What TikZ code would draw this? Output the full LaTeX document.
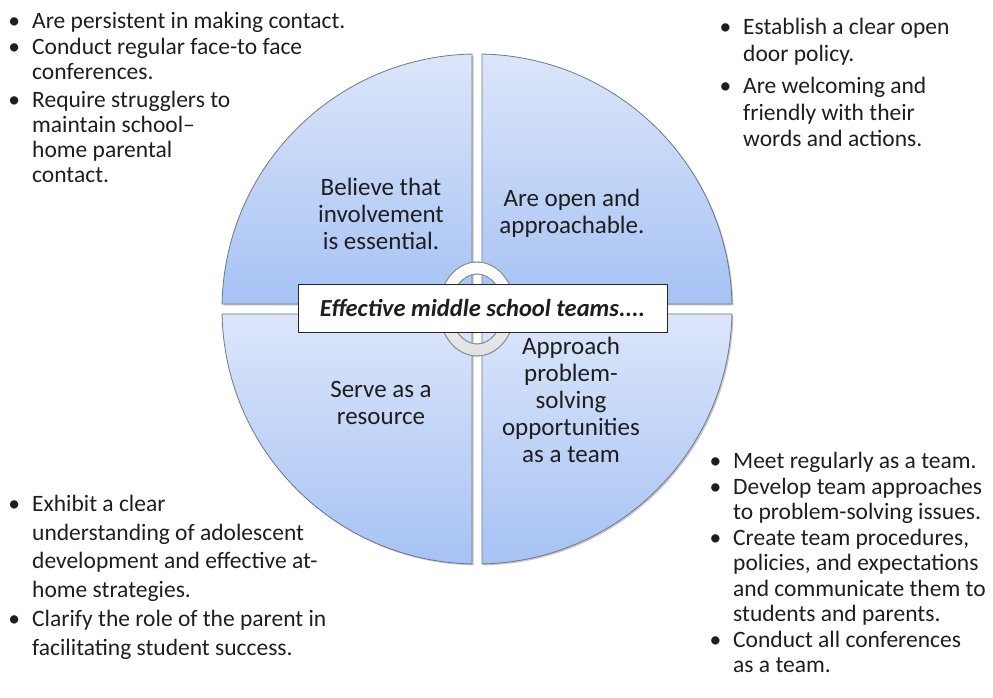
\documentclass[tikz,border=0pt]{standalone}
\usepackage{fontspec}
\setmainfont{Carlito}

\definecolor{quadtop}{HTML}{DCE6FA}
\definecolor{quadbot}{HTML}{A6C2F4}
\definecolor{quadedge}{HTML}{6F7788}
\definecolor{ringedge}{HTML}{8A919E}
\definecolor{inktext}{HTML}{1E1E1E}

\newcommand{\itm}{\llap{\textbullet\hspace{12pt}}}
\newcommand{\notesize}[1]{\fontsize{23.5}{#1}\selectfont}

\begin{document}
\begin{tikzpicture}[x=1pt, y=1pt,
  quad/.style={top color=quadtop, bottom color=quadbot, draw=quadedge, line width=0.8pt},
  quadshadow/.style={fill=black!22},
  ring/.style={top color=white, bottom color=black!12, draw=ringedge, line width=0.8pt, even odd rule},
  qlabel/.style={align=center, inner sep=0pt, text=inktext, font=\fontsize{25}{27}\selectfont},
  note/.style={anchor=base west, inner sep=0pt, text=inktext},
  titlebox/.style={draw=black!85, fill=white, line width=0.9pt, inner sep=0pt,
    minimum width=369pt, minimum height=48pt, text=inktext,
    font=\fontsize{24.5}{26}\selectfont\bfseries\itshape}]
  \useasboundingbox (0,0) rectangle (993,698);
  \def\R{255}
  \def\g{5}
  \pgfmathsetmacro{\a}{asin(\g/\R)}

  % the four quarters of the disc and the ring
  \begin{scope}[shift={(477,389)}]
    \foreach \sx/\sy/\s/\e in {1/1/\a/90-\a, -1/1/180-\a/90+\a,
                               -1/-1/180+\a/270-\a, 1/-1/-\a/-90+\a}{
      \fill[quadshadow, xshift=1.5pt, yshift=-1.5pt] (\sx*\g,\sy*\g) -- ({\s}:\R)
        arc[start angle=\s, end angle=\e, radius=\R] -- cycle;
      \shade[quad] (\sx*\g,\sy*\g) -- ({\s}:\R)
        arc[start angle=\s, end angle=\e, radius=\R] -- cycle;
    }
    \shade[ring] (0,0) ellipse[x radius=38, y radius=47]
      (0,0) ellipse[x radius=26, y radius=35];
    \draw[ringedge, line width=0.8pt] (0,0) ellipse[x radius=38, y radius=47]
      (0,0) ellipse[x radius=26, y radius=35];
  \end{scope}

  \node[titlebox] (title) at (482.5,390) {Effective middle school teams....};

  \node[qlabel] (believe) at (381,484) {Believe that\\involvement\\is essential.};
  \node[qlabel] (open) at (572,484.5) {Are open and\\approachable.};
  \node[qlabel] (resource) at (381,295.5) {Serve as a\\resource};
  \node[qlabel] (approach) at (571,298) {Approach\\problem-\\solving\\opportunities\\as a team};

  % bullet notes round the disc
  \node[note, font={\notesize{25}}] (tlnotes) at (32,669) {\begin{tabular}[t]{@{}l@{}}
    \itm Are persistent in making contact.\\[1pt]
    \itm Conduct regular face-to face\\
    conferences.\\[3pt]
    \itm Require strugglers to\\
    maintain school–\\
    home parental\\
    contact.
  \end{tabular}};
  \node[note, font={\notesize{26.5}}] (trnotes) at (743,663) {\begin{tabular}[t]{@{}l@{}}
    \itm Establish a clear open\\
    door policy.\\[6pt]
    \itm Are welcoming and\\
    friendly with their\\
    words and actions.
  \end{tabular}};
  \node[note, font={\notesize{28.5}}] (blnotes) at (32,186) {\begin{tabular}[t]{@{}l@{}}
    \itm Exhibit a clear\\
    understanding of adolescent\\
    development and effective at-\\
    home strategies.\\[1pt]
    \itm Clarify the role of the parent in\\
    facilitating student success.
  \end{tabular}};
  \node[note, font={\notesize{25.5}}] (brnotes) at (733,229) {\begin{tabular}[t]{@{}l@{}}
    \itm Meet regularly as a team.\\
    \itm Develop team approaches\\
    to problem-solving issues.\\
    \itm Create team procedures,\\
    policies, and expectations\\
    and communicate them to\\
    students and parents.\\
    \itm Conduct all conferences\\
    as a team.
  \end{tabular}};
\end{tikzpicture}
\end{document}
